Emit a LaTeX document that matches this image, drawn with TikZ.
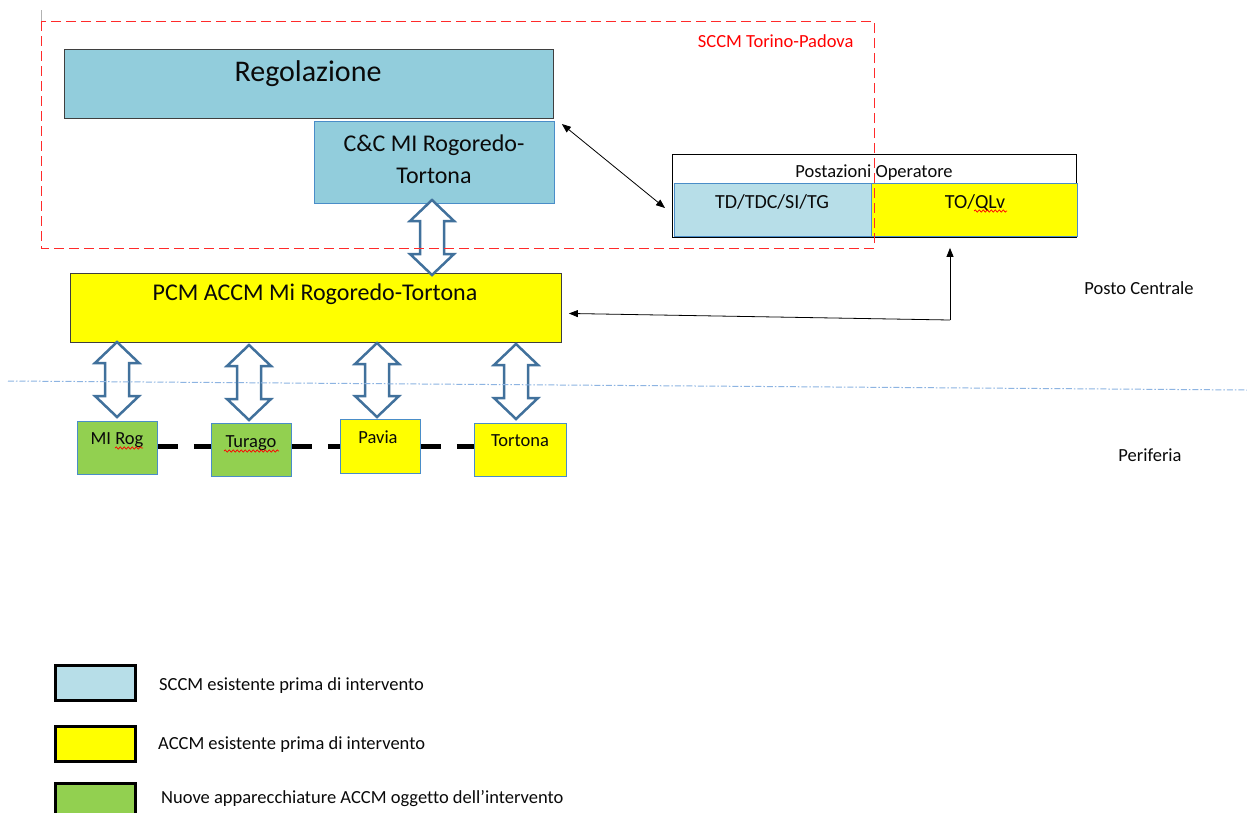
\documentclass[tikz,border=0pt]{standalone}
\usepackage{fontspec}
\setmainfont[Ligatures=NoCommon]{Carlito}
\usetikzlibrary{arrows.meta,calc,decorations.pathmorphing}
\definecolor{sccm}{HTML}{92CDDC}
\definecolor{sccmlight}{HTML}{B7DEE8}
\definecolor{accm}{HTML}{FFFF00}
\definecolor{nuovo}{HTML}{92D050}
\definecolor{bord}{HTML}{4A8DC8}
\definecolor{darkb}{HTML}{3F3F3F}
\definecolor{arrblue}{HTML}{41719C}
\definecolor{sepline}{HTML}{8DB4E2}
\definecolor{redl}{HTML}{FF2A2A}
\definecolor{txt}{HTML}{0A0A0A}
\newcommand{\blkarrow}[3]{%
  \draw[blockarr] (#1,#2) -- ({#1+22},{#2+21}) -- ({#1+12},{#2+21}) -- ({#1+12},{#3-21})
   -- ({#1+22},{#3-21}) -- (#1,#3) -- ({#1-22},{#3-21}) -- ({#1-12},{#3-21})
   -- ({#1-12},{#2+21}) -- ({#1-22},{#2+21}) -- cycle;}
\begin{document}
\begin{tikzpicture}[x=1pt,y=-1pt,
  box/.style={draw, line width=0.9pt, inner sep=0pt, anchor=north west},
  legbox/.style={draw=black, line width=3pt, inner sep=0pt, anchor=north west, minimum width=80pt},
  blockarr/.style={draw=arrblue, line width=2.5pt, fill=white, line join=miter},
  arr/.style={draw=black, line width=0.8pt, -{Triangle[length=9pt,width=7pt]}},
  arrboth/.style={draw=black, line width=0.8pt, {Triangle[length=9pt,width=7pt]}-{Triangle[length=9pt,width=7pt]}},
  link/.style={draw=black, line width=5pt, dash pattern=on 20pt off 16pt},
  tbig/.style={font=\fontsize{30}{36}\selectfont, text=txt},
  tmid/.style={font=\fontsize{24}{32}\selectfont, text=txt, align=center},
  tsm/.style={font=\fontsize{20}{24}\selectfont, text=txt},
  t18/.style={font=\fontsize{18.5}{22}\selectfont, text=txt},
  squig/.style={draw=red, line width=0.7pt, decorate, decoration={snake, segment length=4pt, amplitude=1.1pt}}
]
\useasboundingbox (0,0) rectangle (1247,812);
\fill[white] (0,0) rectangle (1247,812);

% upper boxes
\node[box, fill=sccm, draw=darkb, minimum width=489pt, minimum height=69pt] (reg) at (64,49) {};
\node[tbig] at (308,74) {Regolazione};
\node[box, fill=sccm, draw=bord, minimum width=240pt, minimum height=82pt] (cc) at (314,121) {};
\node[tmid] at (434,159) {C\&C MI Rogoredo-\\Tortona};

\node[box, fill=accm, draw=darkb, minimum width=491pt, minimum height=69pt] (pcm) at (70,273) {};
\node[tmid] at (315,294) {PCM ACCM Mi Rogoredo-Tortona};

% operator stations
\node[box, fill=white, draw=black, minimum width=404pt, minimum height=83pt] (post) at (672,154) {};
\node[t18] at (874,173) {Postazioni Operatore};
\node[box, fill=sccmlight, draw=bord, minimum width=197pt, minimum height=53pt] (td) at (674,183) {};
\node[tsm] at (772,202) {TD/TDC/SI/TG};
\node[box, fill=accm, draw=bord, minimum width=206pt, minimum height=53pt] (to) at (871,183) {};
\node[tsm] at (975,203) {TO/QLv};
\draw[squig] (974,211) -- (1007,211);

% peripheral stations
\node[box, fill=nuovo, draw=bord, minimum width=80pt, minimum height=53pt] (mirog) at (77,421) {};
\node[t18] at (117,440) {MI Rog};
\draw[squig] (115,448) -- (143,448);
\node[box, fill=nuovo, draw=bord, minimum width=80pt, minimum height=53pt] (turago) at (211,423) {};
\node[t18] at (251,443) {Turago};
\draw[squig] (224,451) -- (279,451);
\node[box, fill=accm, draw=bord, minimum width=80pt, minimum height=54pt] (pavia) at (340,419) {};
\node[t18] at (378,437) {Pavia};
\node[box, fill=accm, draw=bord, minimum width=92pt, minimum height=53pt] (tortona) at (474,423) {};
\node[t18] at (520,441) {Tortona};

% dashed links between stations
\draw[link] ([yshift=1.5pt]mirog.east) -- ([yshift=1.5pt]mirog.east -| turago.west);
\draw[link] ([yshift=3.5pt]turago.east) -- ([yshift=3.5pt]turago.east -| pavia.west);
\draw[link] ([yshift=0pt]pavia.east) -- ([yshift=0pt]pavia.east -| tortona.west);

% block arrows
\blkarrow{432}{200}{275}
\blkarrow{117}{342}{417}
\blkarrow{249}{345}{420}
\blkarrow{377}{343}{417}
\blkarrow{516}{344}{419}

% thin connectors
\draw[arrboth] ([xshift=7pt,yshift=-3pt]cc.north east) -- ([xshift=-9pt,yshift=-25pt]td.north west);
\coordinate (k) at (950,320);
\draw[arr] (k) -- ([xshift=7pt,yshift=-5.5pt]pcm.east);
\draw[arr] (k) -- ($(k |- to.south)+(0,11)$);

% SCCM region
\draw[redl, line width=1pt, dash pattern=on 10pt off 5pt] (41,21) rectangle (874,248);
\draw[gray!60, line width=1pt] (41,10) -- (41,21);
\node[font=\fontsize{18.5}{22}\selectfont, text=red, anchor=east] at (857,41) {SCCM Torino-Padova};

% separator
\draw[sepline, line width=1pt, dash pattern=on 6pt off 2pt on 1.5pt off 2pt] (8,381) -- (1247,390);
\node[t18] at (1139,288) {Posto Centrale};
\node[t18] at (1150,455) {Periferia};

% legend
\node[legbox, fill=sccmlight, minimum height=35pt] (l1) at (54,664) {};
\node[t18, anchor=west, inner sep=0pt] at (159,686) {SCCM esistente prima di intervento};
\node[legbox, fill=accm, minimum height=35pt] (l2) at (54,725) {};
\node[t18, anchor=west, inner sep=0pt] at (158,745) {ACCM esistente prima di intervento};
\node[legbox, fill=nuovo, minimum height=40pt] (l3) at (54,782) {};
\node[t18, anchor=west, inner sep=0pt] at (161,799) {Nuove apparecchiature ACCM oggetto dell’intervento};
\end{tikzpicture}
\end{document}
